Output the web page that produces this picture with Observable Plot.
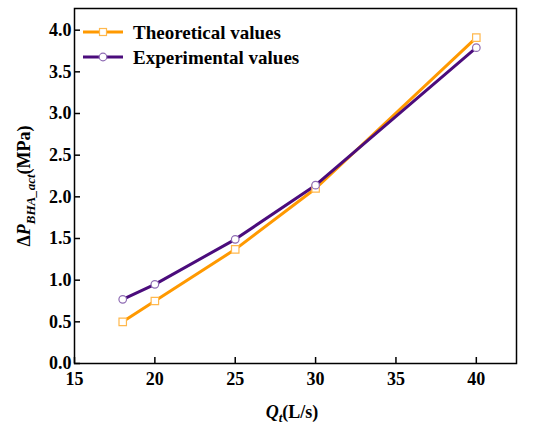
<!DOCTYPE html>
<html>
<head>
<meta charset="utf-8">
<script src="https://cdn.jsdelivr.net/npm/d3@7"></script>
<script src="https://cdn.jsdelivr.net/npm/@observablehq/plot@0.6"></script>
<style>
  html, body { margin: 0; padding: 0; background: #fff; }
  svg text { font-family: "Liberation Serif", "Times New Roman", serif; }
</style>
</head>
<body>
<div id="chart"></div>
<script>
const flow = [18, 20, 25, 30, 40];
const theoretical = [0.50, 0.75, 1.37, 2.10, 3.91];
const experimental = [0.77, 0.95, 1.49, 2.14, 3.79];
const xTicks = [15, 20, 25, 30, 35, 40];
const yTicks = [0.0, 0.5, 1.0, 1.5, 2.0, 2.5, 3.0, 3.5, 4.0];
const seriesNames = ["Theoretical values", "Experimental values"];

const theoData = flow.map((q, i) => ({q, v: theoretical[i]}));
const expData = flow.map((q, i) => ({q, v: experimental[i]}));

const orange = "#ff9900", orangeLight = "#ffb84d";
const purple = "#4b0c7c", purpleLight = "#8e6bb3";
const font = "Liberation Serif";

const plot = Plot.plot({
  width: 550,
  height: 440,
  marginLeft: 74,
  marginRight: 34,
  marginTop: 8,
  marginBottom: 77,
  style: {fontFamily: font, fontSize: "18px", fontWeight: "bold", background: "white", color: "black"},
  x: {domain: [15, 42.5]},
  y: {domain: [0, 4.26]},
  marks: [
    Plot.axisX({ticks: xTicks, tickSize: 0, tickPadding: 9, tickFormat: d3.format("d"), label: null, fontSize: 18}),
    Plot.axisX({ticks: xTicks, tickSize: -6, text: null, label: null, strokeWidth: 1.5}),
    Plot.axisY({ticks: yTicks, tickSize: 0, tickPadding: 3, tickFormat: d3.format(".1f"), label: null, fontSize: 18}),
    Plot.axisY({ticks: yTicks, tickSize: -6, text: null, label: null, strokeWidth: 1.5}),
    Plot.frame({stroke: "black", strokeWidth: 1.5}),
    Plot.line(theoData, {x: "q", y: "v", stroke: orange, strokeWidth: 3}),
    Plot.line(expData, {x: "q", y: "v", stroke: purple, strokeWidth: 3}),
    Plot.dot(theoData, {x: "q", y: "v", symbol: "square", r: 4.2, fill: "white", stroke: orangeLight, strokeWidth: 1.2}),
    Plot.dot(expData, {x: "q", y: "v", symbol: "circle", r: 3.8, fill: "white", stroke: purpleLight, strokeWidth: 1.2})
  ]
});

document.getElementById("chart").appendChild(plot);
const svg = d3.select(plot);
svg.selectAll("g").filter(function() {
  const a = this.getAttribute("aria-label") || "";
  return a.indexOf("tick label") >= 0;
}).selectAll("text").style("font-size", "18px").style("font-weight", "bold");

// Legend
const legend = [
  {name: seriesNames[0], color: orange, mstroke: orangeLight, sym: "square", y: 32},
  {name: seriesNames[1], color: purple, mstroke: purpleLight, sym: "circle", y: 57}
];
const lg = svg.append("g").attr("text-anchor", "start");
legend.forEach(d => {
  lg.append("line").attr("x1", 83).attr("x2", 123).attr("y1", d.y).attr("y2", d.y)
    .attr("stroke", d.color).attr("stroke-width", 3);
  if (d.sym === "square") {
    lg.append("rect").attr("x", 103 - 3.5).attr("y", d.y - 3.5).attr("width", 7).attr("height", 7)
      .attr("fill", "white").attr("stroke", d.mstroke).attr("stroke-width", 1.2);
  } else {
    lg.append("circle").attr("cx", 103).attr("cy", d.y).attr("r", 3.8)
      .attr("fill", "white").attr("stroke", d.mstroke).attr("stroke-width", 1.2);
  }
  lg.append("text").attr("x", 133).attr("y", d.y).attr("dy", "0.35em").attr("text-anchor", "start")
    .attr("font-family", font).style("font-size", "19px").attr("font-weight", "bold")
    .attr("fill", "black").text(d.name);
});

// X axis title: Q_t(L/s)
const xt = svg.append("text").attr("x", 292).attr("y", 418).attr("text-anchor", "middle")
  .attr("font-family", font).style("font-size", "18px").attr("font-weight", "bold").attr("fill", "black");
xt.append("tspan").attr("font-style", "italic").text("Q");
xt.append("tspan").attr("font-style", "italic").style("font-size", "13px").attr("dy", 4).text("t");
xt.append("tspan").attr("dy", -4).text("(L/s)");

// Y axis title: ΔP_BHA_act(MPa)
const yt = svg.append("text").attr("transform", "translate(30,186) rotate(-90)").attr("text-anchor", "middle")
  .attr("font-family", font).style("font-size", "18px").attr("font-weight", "bold").attr("fill", "black");
yt.append("tspan").text("Δ");
yt.append("tspan").attr("font-style", "italic").text("P");
yt.append("tspan").attr("font-style", "italic").style("font-size", "13px").attr("dy", 5).text("BHA_act");
yt.append("tspan").attr("dy", -5).text("(MPa)");
</script>
</body>
</html>
